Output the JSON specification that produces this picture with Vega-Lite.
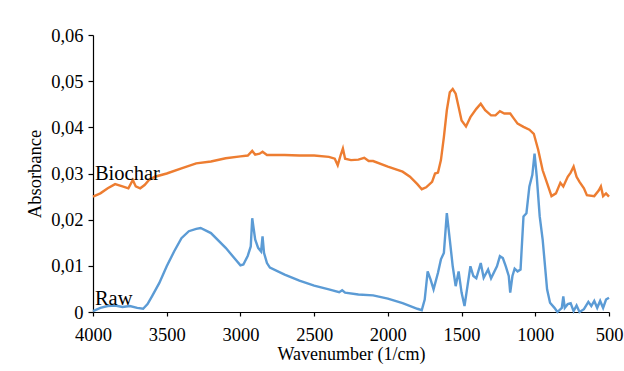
{
  "$schema": "https://vega.github.io/schema/vega-lite/v6.json",
  "width": 516,
  "height": 277,
  "autosize": {"type": "none"},
  "padding": {"left": 93, "top": 35, "right": 15, "bottom": 59},
  "background": "white",
  "config": {
    "view": {"stroke": null},
    "font": "Liberation Serif",
    "axis": {"grid": false, "domainColor": "black", "tickColor": "black", "labelColor": "black", "titleColor": "black", "labelFont": "Liberation Serif", "titleFont": "Liberation Serif", "titleFontWeight": "normal", "labelFontSize": 18.5, "titleFontSize": 18.5, "domainWidth": 1.2, "tickWidth": 1.2}
  },
  "datasets": {
    "spectra": [
      {"s":"Biochar","w":4000,"a":0.0250},{"s":"Biochar","w":3950,"a":0.0257},{"s":"Biochar","w":3900,"a":0.0268},{"s":"Biochar","w":3850,"a":0.0277},{"s":"Biochar","w":3800,"a":0.0272},{"s":"Biochar","w":3760,"a":0.0268},{"s":"Biochar","w":3730,"a":0.0286},{"s":"Biochar","w":3710,"a":0.0272},{"s":"Biochar","w":3680,"a":0.0268},{"s":"Biochar","w":3650,"a":0.0275},{"s":"Biochar","w":3620,"a":0.0286},{"s":"Biochar","w":3580,"a":0.0293},{"s":"Biochar","w":3500,"a":0.0300},{"s":"Biochar","w":3400,"a":0.0311},{"s":"Biochar","w":3300,"a":0.0322},{"s":"Biochar","w":3200,"a":0.0326},{"s":"Biochar","w":3100,"a":0.0333},{"s":"Biochar","w":3000,"a":0.0337},{"s":"Biochar","w":2950,"a":0.0339},{"s":"Biochar","w":2920,"a":0.0349},{"s":"Biochar","w":2900,"a":0.0341},{"s":"Biochar","w":2870,"a":0.0343},{"s":"Biochar","w":2850,"a":0.0347},{"s":"Biochar","w":2820,"a":0.0340},{"s":"Biochar","w":2700,"a":0.0340},{"s":"Biochar","w":2600,"a":0.0339},{"s":"Biochar","w":2500,"a":0.0339},{"s":"Biochar","w":2400,"a":0.0336},{"s":"Biochar","w":2360,"a":0.0332},{"s":"Biochar","w":2340,"a":0.0318},{"s":"Biochar","w":2320,"a":0.0340},{"s":"Biochar","w":2305,"a":0.0354},{"s":"Biochar","w":2290,"a":0.0332},{"s":"Biochar","w":2250,"a":0.0329},{"s":"Biochar","w":2200,"a":0.0330},{"s":"Biochar","w":2160,"a":0.0334},{"s":"Biochar","w":2130,"a":0.0327},{"s":"Biochar","w":2100,"a":0.0327},{"s":"Biochar","w":2000,"a":0.0315},{"s":"Biochar","w":1900,"a":0.0304},{"s":"Biochar","w":1850,"a":0.0293},{"s":"Biochar","w":1800,"a":0.0277},{"s":"Biochar","w":1770,"a":0.0266},{"s":"Biochar","w":1740,"a":0.0270},{"s":"Biochar","w":1700,"a":0.0282},{"s":"Biochar","w":1680,"a":0.0300},{"s":"Biochar","w":1660,"a":0.0302},{"s":"Biochar","w":1640,"a":0.0329},{"s":"Biochar","w":1620,"a":0.0379},{"s":"Biochar","w":1600,"a":0.0437},{"s":"Biochar","w":1580,"a":0.0476},{"s":"Biochar","w":1560,"a":0.0483},{"s":"Biochar","w":1540,"a":0.0473},{"s":"Biochar","w":1520,"a":0.0444},{"s":"Biochar","w":1500,"a":0.0415},{"s":"Biochar","w":1470,"a":0.0402},{"s":"Biochar","w":1440,"a":0.0422},{"s":"Biochar","w":1400,"a":0.0440},{"s":"Biochar","w":1370,"a":0.0451},{"s":"Biochar","w":1340,"a":0.0437},{"s":"Biochar","w":1300,"a":0.0426},{"s":"Biochar","w":1270,"a":0.0426},{"s":"Biochar","w":1240,"a":0.0435},{"s":"Biochar","w":1210,"a":0.0430},{"s":"Biochar","w":1170,"a":0.0430},{"s":"Biochar","w":1150,"a":0.0421},{"s":"Biochar","w":1120,"a":0.0408},{"s":"Biochar","w":1080,"a":0.0401},{"s":"Biochar","w":1040,"a":0.0395},{"s":"Biochar","w":1010,"a":0.0386},{"s":"Biochar","w":980,"a":0.0351},{"s":"Biochar","w":950,"a":0.0307},{"s":"Biochar","w":920,"a":0.0279},{"s":"Biochar","w":890,"a":0.0251},{"s":"Biochar","w":860,"a":0.0257},{"s":"Biochar","w":830,"a":0.0280},{"s":"Biochar","w":810,"a":0.0272},{"s":"Biochar","w":780,"a":0.0293},{"s":"Biochar","w":760,"a":0.0302},{"s":"Biochar","w":740,"a":0.0315},{"s":"Biochar","w":720,"a":0.0293},{"s":"Biochar","w":700,"a":0.0282},{"s":"Biochar","w":670,"a":0.0268},{"s":"Biochar","w":650,"a":0.0253},{"s":"Biochar","w":600,"a":0.0251},{"s":"Biochar","w":570,"a":0.0263},{"s":"Biochar","w":555,"a":0.0272},{"s":"Biochar","w":540,"a":0.0251},{"s":"Biochar","w":520,"a":0.0257},{"s":"Biochar","w":500,"a":0.0250},
      {"s":"Raw","w":4000,"a":0.0002},{"s":"Raw","w":3950,"a":0.0009},{"s":"Raw","w":3900,"a":0.0013},{"s":"Raw","w":3850,"a":0.0014},{"s":"Raw","w":3800,"a":0.0011},{"s":"Raw","w":3750,"a":0.0013},{"s":"Raw","w":3700,"a":0.0009},{"s":"Raw","w":3660,"a":0.0007},{"s":"Raw","w":3630,"a":0.0017},{"s":"Raw","w":3600,"a":0.0034},{"s":"Raw","w":3550,"a":0.0063},{"s":"Raw","w":3500,"a":0.0099},{"s":"Raw","w":3450,"a":0.0131},{"s":"Raw","w":3400,"a":0.0160},{"s":"Raw","w":3350,"a":0.0175},{"s":"Raw","w":3300,"a":0.0180},{"s":"Raw","w":3270,"a":0.0182},{"s":"Raw","w":3200,"a":0.0171},{"s":"Raw","w":3100,"a":0.0139},{"s":"Raw","w":3000,"a":0.0101},{"s":"Raw","w":2980,"a":0.0103},{"s":"Raw","w":2950,"a":0.0122},{"s":"Raw","w":2930,"a":0.0142},{"s":"Raw","w":2920,"a":0.0203},{"s":"Raw","w":2900,"a":0.0157},{"s":"Raw","w":2880,"a":0.0139},{"s":"Raw","w":2860,"a":0.0131},{"s":"Raw","w":2850,"a":0.0164},{"s":"Raw","w":2840,"a":0.0128},{"s":"Raw","w":2820,"a":0.0106},{"s":"Raw","w":2800,"a":0.0096},{"s":"Raw","w":2700,"a":0.0081},{"s":"Raw","w":2600,"a":0.0068},{"s":"Raw","w":2500,"a":0.0057},{"s":"Raw","w":2400,"a":0.0049},{"s":"Raw","w":2330,"a":0.0043},{"s":"Raw","w":2310,"a":0.0047},{"s":"Raw","w":2290,"a":0.0042},{"s":"Raw","w":2200,"a":0.0038},{"s":"Raw","w":2100,"a":0.0036},{"s":"Raw","w":2000,"a":0.0029},{"s":"Raw","w":1900,"a":0.0019},{"s":"Raw","w":1800,"a":0.0007},{"s":"Raw","w":1770,"a":0.0004},{"s":"Raw","w":1750,"a":0.0027},{"s":"Raw","w":1730,"a":0.0088},{"s":"Raw","w":1710,"a":0.0070},{"s":"Raw","w":1690,"a":0.0049},{"s":"Raw","w":1660,"a":0.0085},{"s":"Raw","w":1640,"a":0.0114},{"s":"Raw","w":1620,"a":0.0128},{"s":"Raw","w":1600,"a":0.0214},{"s":"Raw","w":1580,"a":0.0157},{"s":"Raw","w":1560,"a":0.0099},{"s":"Raw","w":1540,"a":0.0056},{"s":"Raw","w":1520,"a":0.0088},{"s":"Raw","w":1500,"a":0.0042},{"s":"Raw","w":1480,"a":0.0013},{"s":"Raw","w":1460,"a":0.0056},{"s":"Raw","w":1440,"a":0.0099},{"s":"Raw","w":1420,"a":0.0078},{"s":"Raw","w":1400,"a":0.0073},{"s":"Raw","w":1370,"a":0.0106},{"s":"Raw","w":1350,"a":0.0074},{"s":"Raw","w":1320,"a":0.0092},{"s":"Raw","w":1300,"a":0.0073},{"s":"Raw","w":1260,"a":0.0099},{"s":"Raw","w":1240,"a":0.0121},{"s":"Raw","w":1220,"a":0.0117},{"s":"Raw","w":1200,"a":0.0099},{"s":"Raw","w":1180,"a":0.0078},{"s":"Raw","w":1170,"a":0.0042},{"s":"Raw","w":1155,"a":0.0078},{"s":"Raw","w":1140,"a":0.0094},{"s":"Raw","w":1120,"a":0.0088},{"s":"Raw","w":1100,"a":0.0092},{"s":"Raw","w":1080,"a":0.0207},{"s":"Raw","w":1060,"a":0.0214},{"s":"Raw","w":1040,"a":0.0272},{"s":"Raw","w":1020,"a":0.0297},{"s":"Raw","w":1005,"a":0.0343},{"s":"Raw","w":990,"a":0.0293},{"s":"Raw","w":970,"a":0.0207},{"s":"Raw","w":950,"a":0.0157},{"s":"Raw","w":920,"a":0.0049},{"s":"Raw","w":900,"a":0.0020},{"s":"Raw","w":870,"a":0.0009},{"s":"Raw","w":850,"a":0.0},{"s":"Raw","w":820,"a":0.0009},{"s":"Raw","w":810,"a":0.0034},{"s":"Raw","w":800,"a":0.0009},{"s":"Raw","w":780,"a":0.0017},{"s":"Raw","w":760,"a":0.0019},{"s":"Raw","w":740,"a":0.0002},{"s":"Raw","w":720,"a":0.0014},{"s":"Raw","w":700,"a":0.0},{"s":"Raw","w":670,"a":0.0006},{"s":"Raw","w":640,"a":0.0022},{"s":"Raw","w":620,"a":0.0013},{"s":"Raw","w":600,"a":0.0024},{"s":"Raw","w":580,"a":0.0009},{"s":"Raw","w":560,"a":0.0024},{"s":"Raw","w":540,"a":0.0009},{"s":"Raw","w":520,"a":0.0027},{"s":"Raw","w":500,"a":0.0031}
    ],
    "labels": [
      {"s":"Biochar","w":3987,"a":0.0287},
      {"s":"Raw","w":3987,"a":0.0015}
    ]
  },
  "layer": [
    {
      "data": {"name": "spectra"},
      "mark": {"type": "line", "strokeWidth": 2.4, "clip": false},
      "encoding": {
        "x": {"field": "w", "type": "quantitative", "scale": {"domain": [500, 4000], "reverse": true, "nice": false},
              "axis": {"values": [500,1000,1500,2000,2500,3000,3500,4000], "format": "d", "title": "Wavenumber (1/cm)", "tickSize": 4, "labelBaseline": "alphabetic", "labelPadding": 24, "titleBaseline": "alphabetic", "titleY": 47, "titleX": 258, "labelFlush": false, "labelOverlap": false, "labelFont": "Liberation Serif", "titleFont": "Liberation Serif", "labelFontSize": 18.5, "titleFontSize": 18}},
        "y": {"field": "a", "type": "quantitative", "scale": {"domain": [0, 0.06], "nice": false},
              "axis": {"values": [0,0.01,0.02,0.03,0.04,0.05,0.06], "title": "Absorbance", "tickSize": 5, "labelPadding": 5, "titleBaseline": "alphabetic", "titleX": -53, "titleY": 138.5, "labelExpr": "datum.value == 0 ? '0' : replace(format(datum.value, '.2f'), '.', ',')", "labelFlush": false, "labelOverlap": false, "labelFont": "Liberation Serif", "titleFont": "Liberation Serif", "labelFontSize": 18.5, "titleFontSize": 18.5}},
        "color": {"field": "s", "type": "nominal", "scale": {"domain": ["Biochar", "Raw"], "range": ["#ED7D31", "#5B9BD5"]}, "legend": null}
      }
    },
    {
      "data": {"name": "labels"},
      "mark": {"type": "text", "align": "left", "baseline": "alphabetic", "fontSize": 20.5, "font": "Liberation Serif", "color": "black"},
      "encoding": {
        "x": {"field": "w", "type": "quantitative"},
        "y": {"field": "a", "type": "quantitative"},
        "text": {"field": "s"}
      }
    }
  ]
}
